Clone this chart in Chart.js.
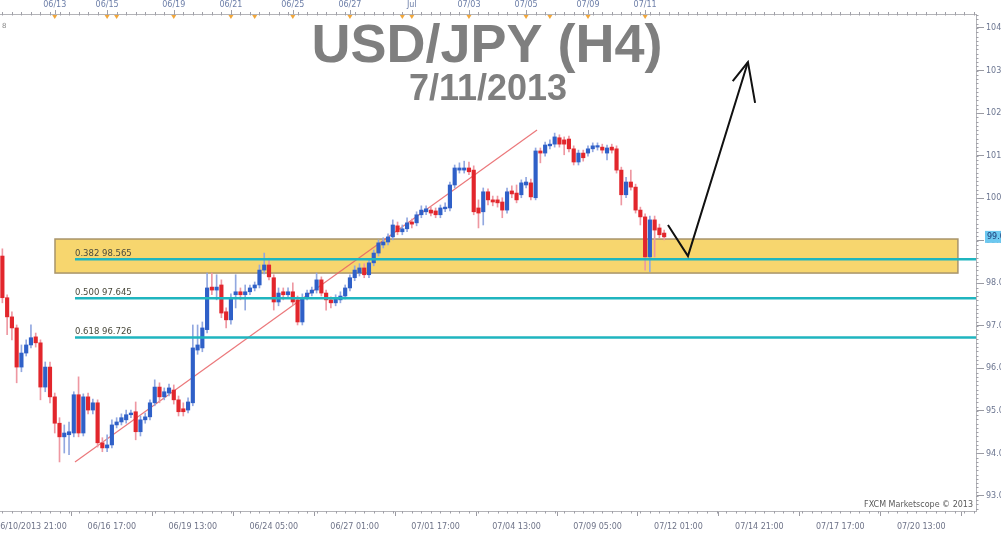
<!DOCTYPE html>
<html lang="en">
<head>
    <meta charset="UTF-8">
    <title>USD/JPY (H4)</title>
    <style>
        html, body {
            margin: 0;
            padding: 0;
            background: #ffffff;
        }
        canvas {
            display: block;
        }
    </style>
    <script src="https://cdn.jsdelivr.net/npm/chart.js@4.4.1/dist/chart.umd.min.js"></script>
</head>
<body>
    <canvas id="fx-chart" width="1001" height="538"></canvas>

    <script>
        // H4 bars, one slot per bar; slot 0 is the first bar on the left edge
        const opens = [
            98.64, 97.66, 97.21, 96.95, 96.03, 96.36, 96.55, 96.74, 96.60, 95.56,
            96.03, 95.33, 94.71, 94.39, 94.44, 94.48, 95.38, 94.48, 95.33, 95.02,
            95.19, 94.25, 94.13, 94.20, 94.67, 94.74, 94.79, 94.91, 94.98, 94.51,
            94.79, 94.86, 95.19, 95.56, 95.33, 95.42, 95.49, 95.26, 95.05, 95.02,
            95.19, 96.43, 96.48, 96.91, 97.91, 97.84, 97.96, 97.33, 97.14, 97.73,
            97.80, 97.73, 97.80, 97.89, 97.96, 98.31, 98.43, 98.13, 97.56, 97.80,
            97.73, 97.80, 97.61, 97.09, 97.68, 97.77, 97.84, 98.08, 97.77, 97.61,
            97.54, 97.61, 97.70, 97.89, 98.13, 98.24, 98.36, 98.20, 98.48, 98.71,
            98.90, 98.97, 99.09, 99.35, 99.21, 99.28, 99.44, 99.42, 99.61, 99.68,
            99.72, 99.70, 99.61, 99.75, 99.77, 100.31, 100.66, 100.66, 100.71, 100.66,
            99.77, 99.68, 100.15, 99.96, 99.96, 99.91, 99.72, 100.17, 100.12, 100.08,
            100.31, 100.36, 100.01, 101.11, 101.06, 101.23, 101.27, 101.42, 101.37, 101.39,
            101.16, 100.85, 101.06, 101.06, 101.16, 101.20, 101.20, 101.06, 101.20, 101.16,
            100.66, 100.08, 100.38, 100.26, 99.72, 99.56, 98.62, 99.49, 99.30, 99.18
        ];
        const highs = [
            98.81, 97.73, 97.33, 97.02, 96.55, 96.67, 97.02, 96.83, 96.67, 96.15,
            96.15, 95.42, 94.84, 94.67, 94.74, 95.45, 95.80, 95.40, 95.42, 95.28,
            95.26, 94.37, 94.44, 94.79, 94.84, 94.93, 95.02, 95.02, 95.21, 94.88,
            94.95, 95.26, 95.73, 95.66, 95.54, 95.63, 95.61, 95.35, 95.19, 95.31,
            97.02, 97.02, 97.09, 98.24, 98.24, 98.20, 98.08, 97.42, 97.75, 98.20,
            97.89, 97.96, 97.96, 98.03, 98.43, 98.71, 98.59, 98.20, 97.89, 97.89,
            97.89, 98.01, 97.70, 97.75, 97.84, 97.91, 98.24, 98.15, 97.84, 97.68,
            97.73, 97.80, 97.96, 98.20, 98.41, 98.46, 98.46, 98.55, 98.78, 99.02,
            99.07, 99.16, 99.49, 99.44, 99.37, 99.54, 99.51, 99.68, 99.82, 99.82,
            99.79, 99.77, 99.84, 99.89, 100.38, 100.78, 100.83, 100.87, 100.85, 100.76,
            99.96, 100.24, 100.22, 100.05, 100.05, 100.01, 100.24, 100.29, 100.31, 100.43,
            100.49, 100.45, 101.18, 101.18, 101.32, 101.37, 101.53, 101.49, 101.44, 101.46,
            101.23, 101.13, 101.13, 101.23, 101.30, 101.30, 101.27, 101.25, 101.27, 101.23,
            100.73, 100.49, 100.66, 100.33, 99.79, 99.63, 99.58, 99.58, 99.39, 99.25
        ];
        const lows = [
            97.54, 96.79, 96.67, 95.66, 95.92, 96.29, 96.48, 96.50, 95.26, 95.45,
            95.19, 94.48, 93.80, 94.01, 93.97, 94.39, 94.39, 94.41, 94.93, 94.93,
            94.15, 94.04, 94.04, 94.13, 94.60, 94.67, 94.71, 94.84, 94.32, 94.41,
            94.71, 94.79, 95.12, 95.19, 95.26, 95.35, 95.16, 94.88, 94.88, 94.95,
            95.12, 96.33, 96.39, 96.83, 97.73, 97.61, 97.19, 96.95, 97.04, 97.42,
            97.61, 97.37, 97.73, 97.82, 97.89, 98.22, 98.08, 97.37, 97.47, 97.61,
            97.66, 97.49, 97.02, 97.02, 97.61, 97.70, 97.77, 97.70, 97.37, 97.42,
            97.47, 97.54, 97.63, 97.82, 98.06, 98.17, 98.13, 98.13, 98.41, 98.64,
            98.83, 98.90, 99.02, 99.14, 99.14, 99.21, 99.30, 99.35, 99.54, 99.61,
            99.58, 99.54, 99.54, 99.68, 99.70, 100.24, 100.59, 100.59, 100.55, 99.61,
            99.30, 99.37, 99.84, 99.82, 99.79, 99.54, 99.65, 100.01, 99.89, 100.01,
            100.24, 99.96, 99.96, 100.83, 100.99, 101.16, 101.20, 101.20, 101.02, 101.09,
            100.78, 100.78, 100.87, 100.99, 101.09, 101.13, 101.06, 100.90, 101.06, 100.59,
            99.84, 100.01, 100.19, 99.65, 99.37, 98.31, 98.27, 98.62, 99.07, 99.02
        ];
        const closes = [
            97.66, 97.21, 96.95, 96.03, 96.36, 96.55, 96.72, 96.60, 95.56, 96.03,
            95.33, 94.71, 94.39, 94.48, 94.51, 95.38, 94.48, 95.33, 95.02, 95.19,
            94.25, 94.13, 94.20, 94.67, 94.74, 94.84, 94.91, 94.95, 94.51, 94.79,
            94.86, 95.19, 95.56, 95.33, 95.45, 95.54, 95.26, 94.98, 94.98, 95.21,
            96.48, 96.55, 96.95, 97.89, 97.84, 97.91, 97.30, 97.14, 97.66, 97.80,
            97.73, 97.80, 97.89, 97.96, 98.31, 98.43, 98.15, 97.56, 97.77, 97.73,
            97.80, 97.56, 97.09, 97.66, 97.77, 97.84, 98.08, 97.77, 97.61, 97.54,
            97.63, 97.70, 97.89, 98.13, 98.31, 98.36, 98.20, 98.48, 98.71, 98.95,
            98.97, 99.09, 99.37, 99.21, 99.28, 99.42, 99.39, 99.61, 99.72, 99.75,
            99.65, 99.61, 99.77, 99.79, 100.31, 100.71, 100.71, 100.71, 100.62, 99.68,
            99.65, 100.15, 99.96, 99.91, 99.89, 99.72, 100.15, 100.10, 99.96, 100.36,
            100.38, 100.03, 101.11, 101.06, 101.25, 101.27, 101.44, 101.27, 101.27, 101.16,
            100.85, 101.06, 100.95, 101.16, 101.23, 101.23, 101.13, 101.18, 101.13, 100.66,
            100.08, 100.38, 100.26, 99.72, 99.56, 98.62, 99.49, 99.25, 99.14, 99.09
        ];

        // axis runs on past the last bar, out to 07/20
        const slotCount = 205;

        const bottomTickIdx = [6, 23, 40, 57, 74, 91, 108, 125, 142, 159, 176, 193];
        const bottomTickLabels = ['06/10/2013 21:00', '06/16 17:00', '06/19 13:00', '06/24 05:00',
            '06/27 01:00', '07/01 17:00', '07/04 13:00', '07/09 05:00', '07/12 01:00',
            '07/14 21:00', '07/17 17:00', '07/20 13:00'];
        const topTickIdx = [11, 22, 36, 48, 61, 73, 86, 98, 110, 123, 135];
        const topTickLabels = ['06/13', '06/15', '06/19', '06/21', '06/25', '06/27', 'Jul',
            '07/03', '07/05', '07/09', '07/11'];
        const topMarkerIdx = [11, 22, 24, 36, 48, 53, 61, 73, 84, 86, 98, 110, 115, 123, 135];
        const priceTicks = [93, 94, 95, 96, 97, 98, 99, 100, 101, 102, 103, 104];

        // fibonacci retracement levels
        const fibRatios = ['0.382', '0.500', '0.618'];
        const fibLevels = [98.565, 97.645, 96.726];
        const fibStartIdx = 15.25;

        // support zone box
        const zoneIdx = [11.05, 200.7];
        const zonePrice = [98.24, 99.04];

        // trend line and the hand-drawn arrow
        const trendIdx = [15.25, 112.3];
        const trendPrice = [93.80, 101.60];
        const arrowIdx = [139.8, 144.0, 156.6];
        const arrowPrice = [99.37, 98.64, 103.20];
        const arrowHeadIdx = [153.4, 156.6, 158.1];
        const arrowHeadPrice = [102.75, 103.20, 102.24];

        const titleText = 'USD/JPY (H4)';
        const dateText = '7/11/2013';
        const creditText = 'FXCM Marketscope \u00a9 2013';

        const upColor = '#2f60c8';
        const downColor = '#e2262c';
        const upWick = '#92a8e0';
        const downWick = '#ee98a2';
        const fibColor = '#1fb5bf';

        Chart.defaults.font.family = "'DejaVu Sans', sans-serif";

        const isUp = closes.map((c, i) => c >= opens[i]);
        const pts = (xs, ys) => xs.map((v, i) => ({ x: v, y: ys[i] }));

        const fibSets = fibLevels.map(lvl => ({
            type: 'line',
            data: [{ x: fibStartIdx, y: lvl }, { x: slotCount - 0.5, y: lvl }],
            borderColor: fibColor,
            borderWidth: 2.5,
            pointRadius: 0,
            order: 1
        }));

        const decor = {
            id: 'decor',
            beforeDatasetsDraw(chart) {
                const { ctx, scales: { x, y } } = chart;
                const l = x.getPixelForValue(zoneIdx[0]);
                const r = x.getPixelForValue(zoneIdx[1]);
                const t = y.getPixelForValue(zonePrice[1]);
                const b = y.getPixelForValue(zonePrice[0]);
                ctx.save();
                ctx.fillStyle = '#f7d66e';
                ctx.fillRect(l, t, r - l, b - t);
                ctx.strokeStyle = '#a8946a';
                ctx.lineWidth = 1.5;
                ctx.strokeRect(l, t, r - l, b - t);
                ctx.restore();
            },
            afterDraw(chart) {
                const { ctx, chartArea: area, scales: { x, y } } = chart;
                ctx.save();

                // fib labels sitting on their lines
                ctx.font = "8.5px 'DejaVu Sans'";
                ctx.fillStyle = '#4a4a3c';
                ctx.textAlign = 'left';
                ctx.textBaseline = 'alphabetic';
                fibLevels.forEach((lvl, i) => {
                    ctx.fillText(fibRatios[i] + ' ' + lvl.toFixed(3),
                        x.getPixelForValue(fibStartIdx), y.getPixelForValue(lvl) - 3);
                });

                // minor ticks, bottom axis
                ctx.strokeStyle = '#a0a0a8';
                ctx.lineWidth = 1;
                ctx.beginPath();
                for (let i = 0; i < slotCount; i += 2) {
                    const px = Math.round(x.getPixelForValue(i)) + 0.5;
                    ctx.moveTo(px, area.bottom);
                    ctx.lineTo(px, area.bottom + 2.5);
                }
                // minor ticks, top axis
                for (let i = 0; i < slotCount; i += 2) {
                    const px = Math.round(x.getPixelForValue(i)) + 0.5;
                    ctx.moveTo(px, area.top - 2);
                    ctx.lineTo(px, area.top + 1.5);
                }
                topTickIdx.forEach(v => {
                    const px = Math.round(x.getPixelForValue(v)) + 0.5;
                    ctx.moveTo(px, area.top - 4);
                    ctx.lineTo(px, area.top);
                });
                // minor ticks, price axis
                for (let p = 92.7; p < 104.35; p += 0.1) {
                    const py = Math.round(y.getPixelForValue(p)) + 0.5;
                    ctx.moveTo(area.right, py);
                    ctx.lineTo(area.right + 2.5, py);
                }
                ctx.stroke();

                // orange markers under the top dates
                ctx.fillStyle = '#f2a73a';
                topMarkerIdx.forEach(v => {
                    const px = x.getPixelForValue(v);
                    ctx.beginPath();
                    ctx.moveTo(px - 2.5, area.top + 1);
                    ctx.lineTo(px + 2.5, area.top + 1);
                    ctx.lineTo(px, area.top + 5);
                    ctx.closePath();
                    ctx.fill();
                });

                // last price tag on the price axis
                const last = closes[closes.length - 1];
                const ly = y.getPixelForValue(last);
                ctx.fillStyle = '#6cc8f0';
                ctx.fillRect(area.right + 9, ly - 6, 30, 12);
                ctx.fillStyle = '#1d3c78';
                ctx.font = "8px 'DejaVu Sans'";
                ctx.textBaseline = 'middle';
                ctx.fillText(last.toFixed(2), area.right + 11, ly);

                // corner mark
                ctx.fillStyle = '#8a8a8a';
                ctx.font = "7px 'DejaVu Sans'";
                ctx.fillText('8', 2, area.top + 12);

                // credit
                ctx.fillStyle = '#5a5a5a';
                ctx.font = "8px 'DejaVu Sans'";
                ctx.textAlign = 'right';
                ctx.textBaseline = 'alphabetic';
                ctx.fillText(creditText, area.right - 3, area.bottom - 4);

                // title
                ctx.fillStyle = '#7f7f7f';
                ctx.textAlign = 'center';
                ctx.font = "bold 54px 'Liberation Sans'";
                ctx.fillText(titleText, 487, 62);
                ctx.font = "bold 36px 'Liberation Sans'";
                ctx.fillText(dateText, 488, 100);

                ctx.restore();
            }
        };

        new Chart(document.getElementById('fx-chart').getContext('2d'), {
            type: 'bar',
            data: {
                datasets: [
                    {
                        type: 'line',
                        data: pts(arrowIdx, arrowPrice),
                        borderColor: '#111111',
                        borderWidth: 2,
                        pointRadius: 0,
                        order: 0
                    },
                    {
                        type: 'line',
                        data: pts(arrowHeadIdx, arrowHeadPrice),
                        borderColor: '#111111',
                        borderWidth: 2,
                        pointRadius: 0,
                        order: 0
                    },
                    ...fibSets,
                    {
                        // candle bodies
                        data: opens.map((o, i) => ({ x: i, y: [o, closes[i]] })),
                        backgroundColor: isUp.map(u => u ? upColor : downColor),
                        barThickness: 3.5,
                        minBarLength: 1.5,
                        grouped: false,
                        order: 2
                    },
                    {
                        // wicks
                        data: lows.map((l, i) => ({ x: i, y: [l, highs[i]] })),
                        backgroundColor: isUp.map(u => u ? upWick : downWick),
                        barThickness: 1,
                        grouped: false,
                        order: 3
                    },
                    {
                        type: 'line',
                        data: pts(trendIdx, trendPrice),
                        borderColor: 'rgba(232, 96, 100, 0.85)',
                        borderWidth: 1.2,
                        pointRadius: 0,
                        order: 4
                    }
                ]
            },
            options: {
                responsive: false,
                animation: false,
                layout: { padding: 0 },
                plugins: {
                    legend: { display: false },
                    tooltip: { enabled: false }
                },
                scales: {
                    x: {
                        type: 'linear',
                        position: 'bottom',
                        min: -0.5,
                        max: slotCount - 0.5,
                        offset: false,
                        afterBuildTicks: s => { s.ticks = bottomTickIdx.map(v => ({ value: v })); },
                        afterFit: s => { s.height = 27; s.paddingLeft = 0; s.paddingRight = 0; },
                        grid: { drawOnChartArea: false, tickLength: 5, color: '#9a9aa2' },
                        border: { color: '#b4b4b8' },
                        ticks: {
                            autoSkip: false,
                            maxRotation: 0,
                            padding: 6,
                            font: { size: 8 },
                            color: '#6e7388',
                            callback: (v, i) => bottomTickLabels[i]
                        }
                    },
                    xTop: {
                        type: 'linear',
                        position: 'top',
                        min: -0.5,
                        max: slotCount - 0.5,
                        offset: false,
                        afterBuildTicks: s => { s.ticks = topTickIdx.map(v => ({ value: v })); },
                        afterFit: s => { s.height = 14; s.paddingLeft = 0; s.paddingRight = 0; },
                        grid: { drawOnChartArea: false, drawTicks: false },
                        border: { color: '#b4b4b8' },
                        ticks: {
                            autoSkip: false,
                            maxRotation: 0,
                            padding: 4,
                            font: { size: 8 },
                            color: '#6c7ea8',
                            callback: (v, i) => topTickLabels[i]
                        }
                    },
                    y: {
                        type: 'linear',
                        position: 'right',
                        min: 92.647,
                        max: 104.329,
                        afterBuildTicks: s => { s.ticks = priceTicks.map(v => ({ value: v })); },
                        afterFit: s => { s.width = 25; s.paddingTop = 0; s.paddingBottom = 0; },
                        grid: { drawOnChartArea: false, tickLength: 8, color: '#9a9aa2' },
                        border: { color: '#b4b4b8' },
                        ticks: {
                            padding: 2,
                            font: { size: 8 },
                            color: '#6b7590',
                            callback: v => v.toFixed(1)
                        }
                    }
                }
            },
            plugins: [decor]
        });
    </script>
</body>
</html>
